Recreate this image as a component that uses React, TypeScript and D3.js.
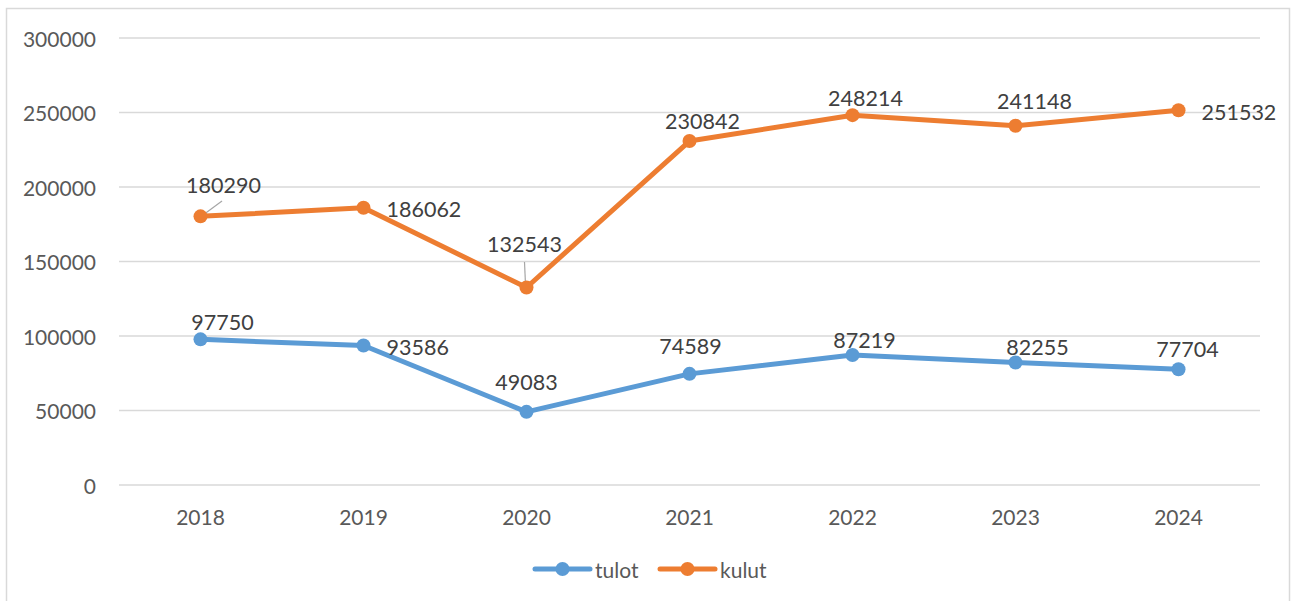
import * as d3 from "d3";

const years = ["2018", "2019", "2020", "2021", "2022", "2023", "2024"];
const tulot = [97750, 93586, 49083, 74589, 87219, 82255, 77704];
const kulut = [180290, 186062, 132543, 230842, 248214, 241148, 251532];
const yTicks = [0, 50000, 100000, 150000, 200000, 250000, 300000];

// label placement relative to each point: [dx, dy, anchor]
const tulotLabelPos: [number, number, string][] = [
  [22, -17, "middle"], [23, 1, "start"], [0, -30, "middle"], [1, -28, "middle"],
  [12, -15, "middle"], [22, -15, "middle"], [9, -20, "middle"],
];
const kulutLabelPos: [number, number, string][] = [
  [23, -31, "middle"], [23, 1, "start"], [-2, -44, "middle"], [13, -20, "middle"],
  [13, -17, "middle"], [19, -25, "middle"], [23, 2, "start"],
];

const W = 1295;
const H = 601;
const font = "Lato, 'Open Sans', sans-serif";
const blue = "#5B9BD5";
const orange = "#ED7D31";

export default function App() {
  const x = d3.scalePoint<string>().domain(years).range([119, 1260]).padding(0.5);
  const y = d3.scaleLinear().domain([0, 300000]).range([485, 38]);
  const line = d3
    .line<number>()
    .x((_, i) => x(years[i])!)
    .y((d) => y(d));

  const series = [
    { name: "tulot", values: tulot, color: blue, pos: tulotLabelPos },
    { name: "kulut", values: kulut, color: orange, pos: kulutLabelPos },
  ];

  return (
    <svg
      width={W}
      height={H}
      style={{ position: "absolute", left: 0, top: 0, background: "#fff" }}
    >
      <rect x={6.5} y={8.5} width={1283} height={620} fill="#fff" stroke="#d9d9d9" strokeWidth={1.5} />
      {yTicks.map((t) => (
        <g key={t}>
          <line x1={119} x2={1260} y1={y(t)} y2={y(t)} stroke="#d9d9d9" strokeWidth={1.3} />
          <text
            x={96}
            y={y(t)}
            textAnchor="end"
            dominantBaseline="central"
            fontFamily={font}
            fontSize={21}
            fill="#595959"
          >
            {t}
          </text>
        </g>
      ))}
      {years.map((yr) => (
        <text
          key={yr}
          x={x(yr)}
          y={516}
          textAnchor="middle"
          dominantBaseline="central"
          fontFamily={font}
          fontSize={21}
          fill="#595959"
        >
          {yr}
        </text>
      ))}
      {/* leader lines */}
      <line x1={203} y1={215} x2={222} y2={201} stroke="#a6a6a6" strokeWidth={1.2} />
      <line x1={x("2020")! - 1} y1={y(kulut[2]) - 3} x2={x("2020")! - 2} y2={262} stroke="#a6a6a6" strokeWidth={1.2} />
      {series.map((s) => (
        <g key={s.name}>
          <path d={line(s.values)!} fill="none" stroke={s.color} strokeWidth={5} strokeLinejoin="round" />
          {s.values.map((v, i) => (
            <circle key={i} cx={x(years[i])} cy={y(v)} r={7} fill={s.color} />
          ))}
          {s.values.map((v, i) => (
            <text
              key={"l" + i}
              x={x(years[i])! + s.pos[i][0]}
              y={y(v) + s.pos[i][1]}
              textAnchor={s.pos[i][2]}
              dominantBaseline="central"
              fontFamily={font}
              fontSize={21.5}
              fill="#404040"
            >
              {v}
            </text>
          ))}
        </g>
      ))}
      {/* legend */}
      {series.map((s, i) => {
        const lx = 535 + i * 125;
        return (
          <g key={"lg" + s.name}>
            <line x1={lx} x2={lx + 55} y1={569} y2={569} stroke={s.color} strokeWidth={5} strokeLinecap="round" />
            <circle cx={lx + 27.5} cy={569} r={7} fill={s.color} />
            <text
              x={lx + 60}
              y={569}
              dominantBaseline="central"
              fontFamily={font}
              fontSize={21}
              fill="#595959"
            >
              {s.name}
            </text>
          </g>
        );
      })}
    </svg>
  );
}
